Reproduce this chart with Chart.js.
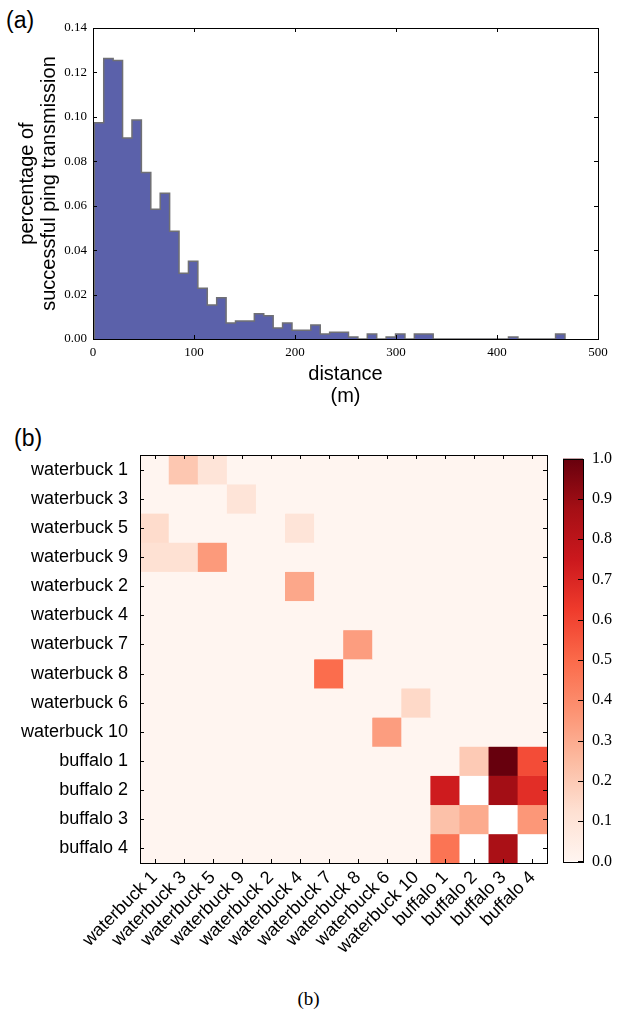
<!DOCTYPE html>
<html>
<head>
<meta charset="utf-8">
<script src="https://cdn.jsdelivr.net/npm/chart.js@4.4.1/dist/chart.umd.min.js"></script>
<style>
  body { margin: 0; background: #fff; width: 617px; height: 1019px; position: relative; overflow: hidden; }
  canvas { position: absolute; }
  .lbl { position: absolute; line-height: 1; color: #000; }
</style>
</head>
<body>
<div class="lbl" style="left:6px; top:7px; font: 23px 'Liberation Sans', Arial, sans-serif;">(a)</div>
<div class="lbl" style="left:14px; top:425px; font: 23px 'Liberation Sans', Arial, sans-serif;">(b)</div>
<div class="lbl" style="left:0; width:617px; text-align:center; top:988px; font: 19px 'Liberation Serif', serif;">(b)</div>

<canvas id="hist" width="617" height="410" style="left:0; top:0;"></canvas>
<canvas id="heat" width="617" height="609" style="left:0; top:410px;"></canvas>
<canvas id="cbar" width="67" height="440" style="left:550px; top:440px;"></canvas>

<script>
// (a) histogram: 50 equal bins, share of successful pings per bin
var binStart = 1.3;   // m
var binWidth = 9.32;  // m
var pingShare = [
  0.0973, 0.1263, 0.1254, 0.0905, 0.0986, 0.0749, 0.0584, 0.0656, 0.0485, 0.0296,
  0.0350, 0.0228, 0.0153, 0.0186, 0.0072, 0.0081, 0.0081, 0.0114, 0.0105, 0.0050,
  0.0072, 0.0039, 0.0039, 0.0063, 0.0023, 0.0030, 0.0030, 0.0009, 0,      0.0023,
  0,      0.0009, 0.0023, 0,      0.0023, 0.0023, 0,      0,      0,      0,
  0,      0,      0,      0,      0.0009, 0,      0,      0,      0,      0.0023
];
var distTicks = [0, 100, 200, 300, 400, 500];

// (b) heatmap, rows and columns in the same order
var animals = ['waterbuck 1', 'waterbuck 3', 'waterbuck 5', 'waterbuck 9', 'waterbuck 2',
  'waterbuck 4', 'waterbuck 7', 'waterbuck 8', 'waterbuck 6', 'waterbuck 10',
  'buffalo 1', 'buffalo 2', 'buffalo 3', 'buffalo 4'];
// null = empty (white) cell
var linkShare = [
  [0,    0.21, 0.10, 0,    0,    0,    0,    0,    0,    0,    0,    0,    0,    0   ],
  [0,    0,    0,    0.10, 0,    0,    0,    0,    0,    0,    0,    0,    0,    0   ],
  [0.14, 0,    0,    0,    0,    0.10, 0,    0,    0,    0,    0,    0,    0,    0   ],
  [0.12, 0.12, 0.35, 0,    0,    0,    0,    0,    0,    0,    0,    0,    0,    0   ],
  [0,    0,    0,    0,    0,    0.31, 0,    0,    0,    0,    0,    0,    0,    0   ],
  [0,    0,    0,    0,    0,    0,    0,    0,    0,    0,    0,    0,    0,    0   ],
  [0,    0,    0,    0,    0,    0,    0,    0.34, 0,    0,    0,    0,    0,    0   ],
  [0,    0,    0,    0,    0,    0,    0.49, 0,    0,    0,    0,    0,    0,    0   ],
  [0,    0,    0,    0,    0,    0,    0,    0,    0,    0.15, 0,    0,    0,    0   ],
  [0,    0,    0,    0,    0,    0,    0,    0,    0.34, 0,    0,    0,    0,    0   ],
  [0,    0,    0,    0,    0,    0,    0,    0,    0,    0,    0,    0.20, 1.00, 0.58],
  [0,    0,    0,    0,    0,    0,    0,    0,    0,    0,    0.74, null, 0.88, 0.67],
  [0,    0,    0,    0,    0,    0,    0,    0,    0,    0,    0.23, 0.30, null, 0.36],
  [0,    0,    0,    0,    0,    0,    0,    0,    0,    0,    0.47, null, 0.86, null]
];
var cbarTicks = [0, 0.1, 0.2, 0.3, 0.4, 0.5, 0.6, 0.7, 0.8, 0.9, 1.0];

// matplotlib "Reds"
var redsStops = ['#fff5f0', '#fee0d2', '#fcbba1', '#fc9272', '#fb6a4a', '#ef3b2c', '#cb181d', '#a50f15', '#67000d'];

function hexRgb(h) {
  return [parseInt(h.substr(1, 2), 16), parseInt(h.substr(3, 2), 16), parseInt(h.substr(5, 2), 16)];
}
function reds(v) {
  if (v === null || v === undefined) return '#ffffff';
  var t = Math.min(Math.max(v, 0), 1) * (redsStops.length - 1);
  var i = Math.min(Math.floor(t), redsStops.length - 2);
  var f = t - i;
  var a = hexRgb(redsStops[i]), b = hexRgb(redsStops[i + 1]);
  return 'rgb(' + [0, 1, 2].map(function (k) { return Math.round(a[k] + (b[k] - a[k]) * f); }).join(',') + ')';
}

var SANS = "'Liberation Sans', Arial, sans-serif";
var SERIF = "'Liberation Serif', 'Times New Roman', serif";
Chart.defaults.color = '#000';

// frame round the plot area plus inward tick marks on every side
var frameTicks = {
  id: 'frameTicks',
  beforeDatasetsDraw: function (chart, args, opts) {
    if (!opts.bg) return;
    var a = chart.chartArea, ctx = chart.ctx;
    ctx.save();
    ctx.fillStyle = opts.bg;
    ctx.fillRect(a.left, a.top, a.right - a.left, a.bottom - a.top);
    ctx.restore();
  },
  afterDatasetsDraw: function (chart, args, opts) {
    var a = chart.chartArea, ctx = chart.ctx, len = opts.len || 4;
    ctx.save();
    ctx.strokeStyle = '#000';
    ctx.lineWidth = 1;
    ctx.beginPath();
    if (opts.x !== false) {
      var xs = chart.scales.x;
      xs.ticks.forEach(function (t, i) {
        var p = Math.round(xs.getPixelForTick(i)) + 0.5;
        ctx.moveTo(p, a.bottom); ctx.lineTo(p, a.bottom - len);
        ctx.moveTo(p, a.top); ctx.lineTo(p, a.top + len);
      });
    }
    var ys = chart.scales.y;
    ys.ticks.forEach(function (t, i) {
      var p = Math.round(ys.getPixelForTick(i)) + 0.5;
      if (opts.left !== false) { ctx.moveTo(a.left, p); ctx.lineTo(a.left + len, p); }
      ctx.moveTo(a.right, p); ctx.lineTo(a.right - len, p);
    });
    ctx.stroke();
    ctx.strokeRect(Math.round(a.left) + 0.5, Math.round(a.top) + 0.5,
      Math.round(a.right - a.left), Math.round(a.bottom - a.top));
    ctx.restore();
  }
};

// ---------- (a) ----------
var histPoints = [{ x: binStart, y: 0 }];
pingShare.forEach(function (v, i) {
  histPoints.push({ x: binStart + i * binWidth, y: v });
  histPoints.push({ x: binStart + (i + 1) * binWidth, y: v });
});
histPoints.push({ x: binStart + pingShare.length * binWidth, y: 0 });

new Chart(document.getElementById('hist'), {
  type: 'line',
  data: {
    datasets: [{
      data: histPoints,
      borderColor: '#707074',
      borderWidth: 1.5,
      backgroundColor: '#5b61aa',
      fill: 'origin',
      pointRadius: 0,
      tension: 0
    }]
  },
  options: {
    responsive: false,
    animation: false,
    devicePixelRatio: 1,
    layout: { padding: { left: 0, top: 28, right: 19, bottom: 0 } },
    plugins: {
      legend: { display: false },
      tooltip: { enabled: false },
      frameTicks: { len: 4 }
    },
    scales: {
      x: {
        type: 'linear', min: 0, max: 500,
        afterBuildTicks: function (s) { s.ticks = distTicks.map(function (v) { return { value: v }; }); },
        ticks: { padding: 6, maxRotation: 0, font: { family: SERIF, size: 13 } },
        grid: { display: false, drawTicks: false },
        border: { display: false },
        title: {
          display: true, text: ['distance', '(m)'],
          font: { family: SANS, size: 20, lineHeight: 1.1 },
          padding: { top: 0, bottom: 3 }
        },
        afterFit: function (s) { s.height = 71; }
      },
      y: {
        min: 0, max: 0.14,
        ticks: { stepSize: 0.02, padding: 6, font: { family: SERIF, size: 13 },
          callback: function (v) { return v.toFixed(2); } },
        grid: { display: false, drawTicks: false },
        border: { display: false },
        title: {
          display: true, text: ['percentage of', 'successful ping transmission'],
          font: { family: SANS, size: 20, lineHeight: 1.1 },
          padding: { top: 16, bottom: 0 }
        },
        afterFit: function (s) { s.width = 93; }
      }
    }
  },
  plugins: [frameTicks]
});

// ---------- (b) heatmap ----------
new Chart(document.getElementById('heat'), {
  type: 'bar',
  data: {
    labels: animals,
    datasets: animals.map(function (row, r) {
      return {
        data: animals.map(function () { return [r - 0.5, r + 0.5]; }),
        backgroundColor: function (ctx) { return reds(linkShare[r][ctx.dataIndex]); },
        borderWidth: 0,
        borderSkipped: false,
        grouped: false,
        barPercentage: 1,
        categoryPercentage: 1
      };
    })
  },
  options: {
    responsive: false,
    animation: false,
    devicePixelRatio: 1,
    layout: { padding: { left: 0, top: 45, right: 70, bottom: 0 } },
    plugins: {
      legend: { display: false },
      tooltip: { enabled: false },
      frameTicks: { len: 4, bg: redsStops[0] }
    },
    scales: {
      x: {
        type: 'category',
        ticks: { autoSkip: false, minRotation: 45, maxRotation: 45, padding: 4,
          font: { family: SANS, size: 18 } },
        grid: { display: false, drawTicks: false },
        border: { display: false },
        afterFit: function (s) { s.height = 156; }
      },
      y: {
        type: 'linear', min: -0.5, max: 13.5, reverse: true,
        afterBuildTicks: function (s) { s.ticks = animals.map(function (n, i) { return { value: i }; }); },
        ticks: { autoSkip: false, padding: 12, font: { family: SANS, size: 18 },
          callback: function (v) { return animals[v]; } },
        grid: { display: false, drawTicks: false },
        border: { display: false },
        afterFit: function (s) { s.width = 140; }
      }
    }
  },
  plugins: [frameTicks]
});

// ---------- colorbar ----------
new Chart(document.getElementById('cbar'), {
  type: 'bar',
  data: {
    labels: [''],
    datasets: [{
      data: [[0, 1]],
      backgroundColor: function (ctx) {
        var a = ctx.chart.chartArea;
        if (!a) return redsStops[0];
        var g = ctx.chart.ctx.createLinearGradient(0, a.bottom, 0, a.top);
        redsStops.forEach(function (c, i) { g.addColorStop(i / (redsStops.length - 1), c); });
        return g;
      },
      borderWidth: 0,
      borderSkipped: false,
      barPercentage: 1,
      categoryPercentage: 1
    }]
  },
  options: {
    responsive: false,
    animation: false,
    devicePixelRatio: 1,
    layout: { padding: { left: 13, top: 15, right: 0, bottom: 16 } },
    plugins: {
      legend: { display: false },
      tooltip: { enabled: false },
      frameTicks: { len: 5, x: false, left: false }
    },
    scales: {
      x: { display: false },
      y: {
        position: 'right', min: 0, max: 1,
        afterBuildTicks: function (s) { s.ticks = cbarTicks.map(function (v) { return { value: v }; }); },
        ticks: { padding: 9, font: { family: SERIF, size: 16 },
          callback: function (v) { return v.toFixed(1); } },
        grid: { display: false, drawTicks: false },
        border: { display: false },
        afterFit: function (s) { s.width = 34; }
      }
    }
  },
  plugins: [frameTicks]
});
</script>
</body>
</html>
